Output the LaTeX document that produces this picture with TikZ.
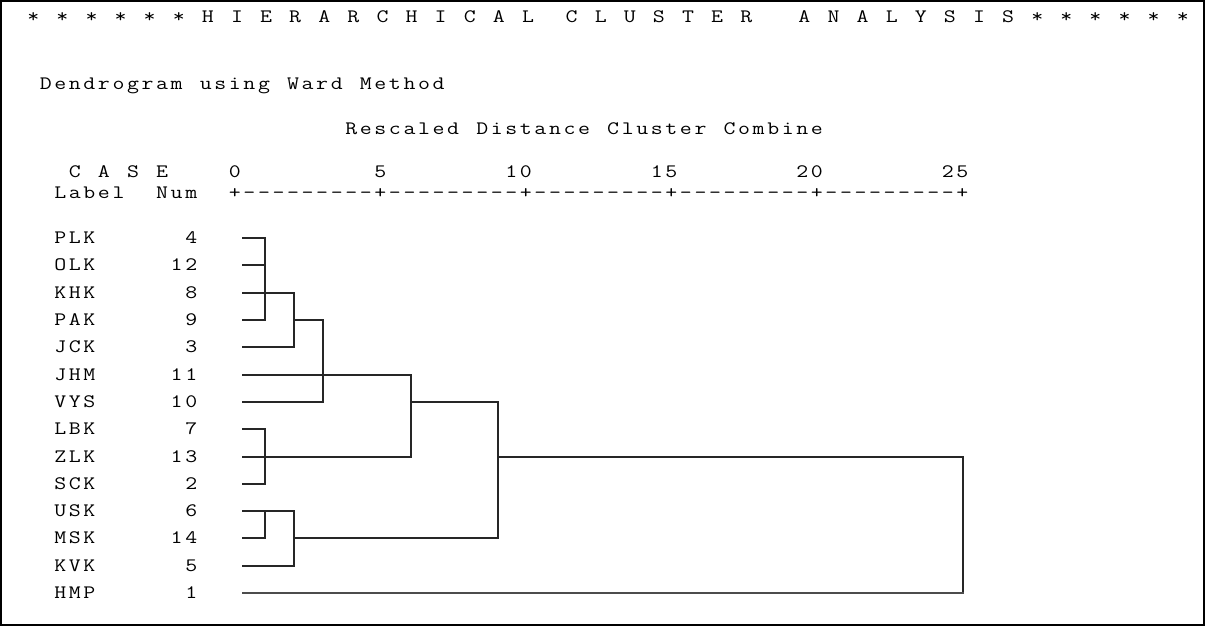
\documentclass[tikz,border=0pt]{standalone}
\usepackage{fontspec}

% fixed character pitch of the listing; "_" stands for one blank cell
\newlength\cellw
\setlength\cellw{14.55pt}

\ExplSyntaxOn
\str_new:N \l_grid_str
\NewDocumentCommand{\gridtext}{m}
  {
    \str_set:Nx \l_grid_str {#1}
    \str_map_inline:Nn \l_grid_str
      {
        \str_if_eq:nnTF {##1} {_}
          { \hbox_to_wd:nn {\cellw} {} }
          { \makebox[\cellw][c]{\scalebox{1.22}[1]{##1}} }
      }
  }
\ExplSyntaxOff

\tikzset{
  listing/.style={inner sep=0pt, outer sep=0pt, anchor=base west,
    font=\ttfamily\fontsize{19}{21}\selectfont, text=black},
  numcol/.style={listing, anchor=base east},
  link/.style={line width=2pt, draw=black!85, line join=miter, line cap=rect},
  lastlink/.style={link, draw=black!70},
  frame/.style={line width=2pt, draw=black}
}

\begin{document}
\begin{tikzpicture}[x=1pt,y=-1pt]
  \useasboundingbox (0,0) rectangle (1205,626);
  \draw[frame] (1,1) rectangle (1203.5,624.5);

  % text grid: column 0 starts at x0, baseline sits 5.5 below the row centre
  \def\xo{53}
  \def\bl{5.8}

  \node[listing] (title) at (26,{17+\bl})
    {\gridtext{*_*_*_*_*_*_H_I_E_R_A_R_C_H_I_C_A_L__C_L_U_S_T_E_R___A_N_A_L_Y_S_I_S_*_*_*_*_*_*}};
  \node[listing] (method) at ({\xo-14.55},{84+\bl})
    {\gridtext{Dendrogram_using_Ward_Method}};
  \node[listing] (scale) at ({\xo+20*14.55},{129+\bl})
    {\gridtext{Rescaled_Distance_Cluster_Combine}};
  \node[listing] (head1) at (\xo,{172+\bl})
    {\gridtext{_C_A_S_E____0_________5________10________15________20________25}};
  \node[listing] (head2) at (\xo,{193+\bl})
    {\gridtext{Label__Num__+---------+---------+---------+---------+---------+}};

  % merge levels
  \coordinate (x1) at (265,0);
  \coordinate (x2) at (294,0);
  \coordinate (x3) at (323,0);
  \coordinate (x4) at (411,0);
  \coordinate (x5) at (498,0);
  \coordinate (x6) at (963,0);

  % cases: row centre / label / number
  \foreach \yy/\lab/\num in {238/PLK/4,265/OLK/12,293/KHK/8,320/PAK/9,347/JCK/3,
      375/JHM/11,402/VYS/10,429/LBK/7,457/ZLK/13,484/SCK/2,511/USK/6,538/MSK/14,
      566/KVK/5,593/HMP/1}{
    \node[listing] (lab-\lab) at (\xo,{\yy+\bl}) {\gridtext{\lab}};
    \node[numcol] (num-\lab) at ({\xo+10*14.55},{\yy+\bl}) {\gridtext{\num}};
    \coordinate (\lab) at (243,\yy);
  }

  % dendrogram
  \draw[link] (PLK) -- (PLK -| x1) -- (PAK -| x1) -- (PAK);
  \draw[link] (OLK) -- (OLK -| x1);
  \draw[link] (KHK) -- (KHK -| x2) -- (JCK -| x2) -- (JCK);
  \draw[link] (PAK -| x2) -- (PAK -| x3) -- (VYS -| x3) -- (VYS);
  \draw[link] (JHM) -- (JHM -| x4) -- (ZLK -| x4) -- (ZLK);
  \draw[link] (LBK) -- (LBK -| x1) -- (SCK -| x1) -- (SCK);
  \draw[link] (USK) -- (USK -| x2) -- (KVK -| x2) -- (KVK);
  \draw[link] (USK -| x1) -- (MSK -| x1) -- (MSK);
  \draw[link] (VYS -| x4) -- (VYS -| x5) -- (MSK -| x5) -- (MSK -| x2);
  \draw[link] (ZLK -| x5) -- (ZLK -| x6) -- (HMP -| x6);
  \draw[lastlink] (HMP -| x6) -- (HMP);
\end{tikzpicture}
\end{document}
